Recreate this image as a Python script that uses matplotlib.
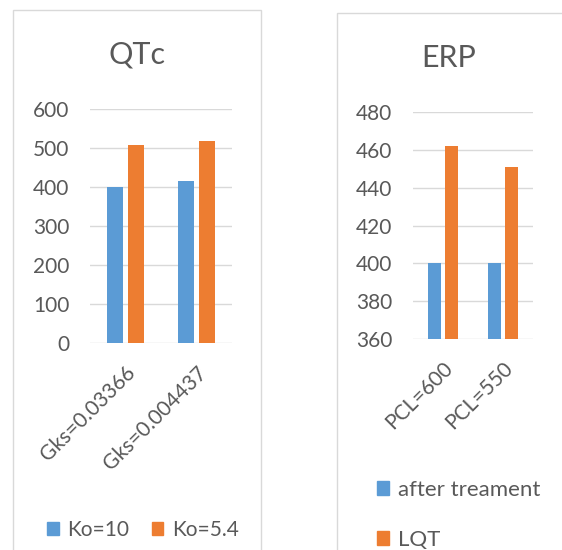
import matplotlib
matplotlib.use("Agg")
import matplotlib.pyplot as plt
from matplotlib.patches import Rectangle, Patch

plt.rcParams['font.family'] = ['Lato', 'DejaVu Sans']

# QTc panel
qtc_cats = ["Gks=0.03366", "Gks=0.004437"]
qtc_ko10 = [400, 415]
qtc_ko54 = [508, 518]
qtc_series = ["Ko=10", "Ko=5.4"]
qtc_ticks = [0, 100, 200, 300, 400, 500, 600]

# ERP panel
erp_cats = ["PCL=600", "PCL=550"]
erp_after = [400, 400]
erp_lqt = [462, 451]
erp_series = ["after treament", "LQT"]
erp_ticks = [360, 380, 400, 420, 440, 460, 480]

BLUE = "#5B9BD5"
ORANGE = "#ED7D31"
TXT = "#595959"
GRID = "#D9D9D9"
W, H = 562, 550

fig = plt.figure(figsize=(W / 100, H / 100), dpi=100)

# panel frames (bottom edges run off the picture)
fig.add_artist(Rectangle((13 / W, -0.05), 248 / W, 1.05 - 10 / H,
                         transform=fig.transFigure, fill=False, ec=GRID, lw=1))
fig.add_artist(Rectangle((337 / W, -0.05), 0.5, 1.05 - 13 / H,
                         transform=fig.transFigure, fill=False, ec=GRID, lw=1))


def style(ax, ticks, lo, hi):
    ax.set_ylim(lo, hi)
    ax.set_xlim(-0.5, 1.5)
    ax.set_yticks(ticks)
    ax.grid(axis="y", color=GRID, lw=1)
    ax.set_axisbelow(True)
    for s in ax.spines.values():
        s.set_visible(False)
    ax.tick_params(length=0, colors=TXT, labelsize=15)
    ax.tick_params(axis="y", pad=15)
    ax.tick_params(axis="x", pad=14)


def draw(ax, cats, a, b):
    x = list(range(len(cats)))
    ax.bar([i - 0.145 for i in x], a, width=0.22, color=BLUE)
    ax.bar([i + 0.145 for i in x], b, width=0.22, color=ORANGE)
    ax.set_xticks(x)
    ax.set_xticklabels(cats, rotation=45, ha="right", rotation_mode="anchor")


ax1 = fig.add_axes([90 / W, 1 - 343 / H, 142 / W, 234 / H])
draw(ax1, qtc_cats, qtc_ko10, qtc_ko54)
style(ax1, qtc_ticks, 0, 600)

ax2 = fig.add_axes([413 / W, 1 - 339 / H, 120 / W, 227 / H])
draw(ax2, erp_cats, erp_after, erp_lqt)
style(ax2, erp_ticks, 360, 480)

fig.text(137 / W, 1 - 54 / H, "QTc", ha="center", va="center", fontsize=22, color=TXT)
fig.text(449 / W, 1 - 58 / H, "ERP", ha="center", va="center", fontsize=22, color=TXT)

h1 = [Patch(color=BLUE), Patch(color=ORANGE)]
fig.legend(h1, qtc_series, loc="center", bbox_to_anchor=(143 / W, 1 - 530 / H),
           ncol=2, frameon=False, fontsize=15, labelcolor=TXT,
           handlelength=0.55, handleheight=0.55, handletextpad=0.4, columnspacing=1.1)
fig.legend(h1, erp_series, loc="upper left", bbox_to_anchor=(357 / W, 1 - 460 / H),
           ncol=1, frameon=False, fontsize=16, labelcolor=TXT,
           handlelength=0.55, handleheight=0.55, handletextpad=0.4, labelspacing=1.35)

fig.savefig("out.png", dpi=100)
